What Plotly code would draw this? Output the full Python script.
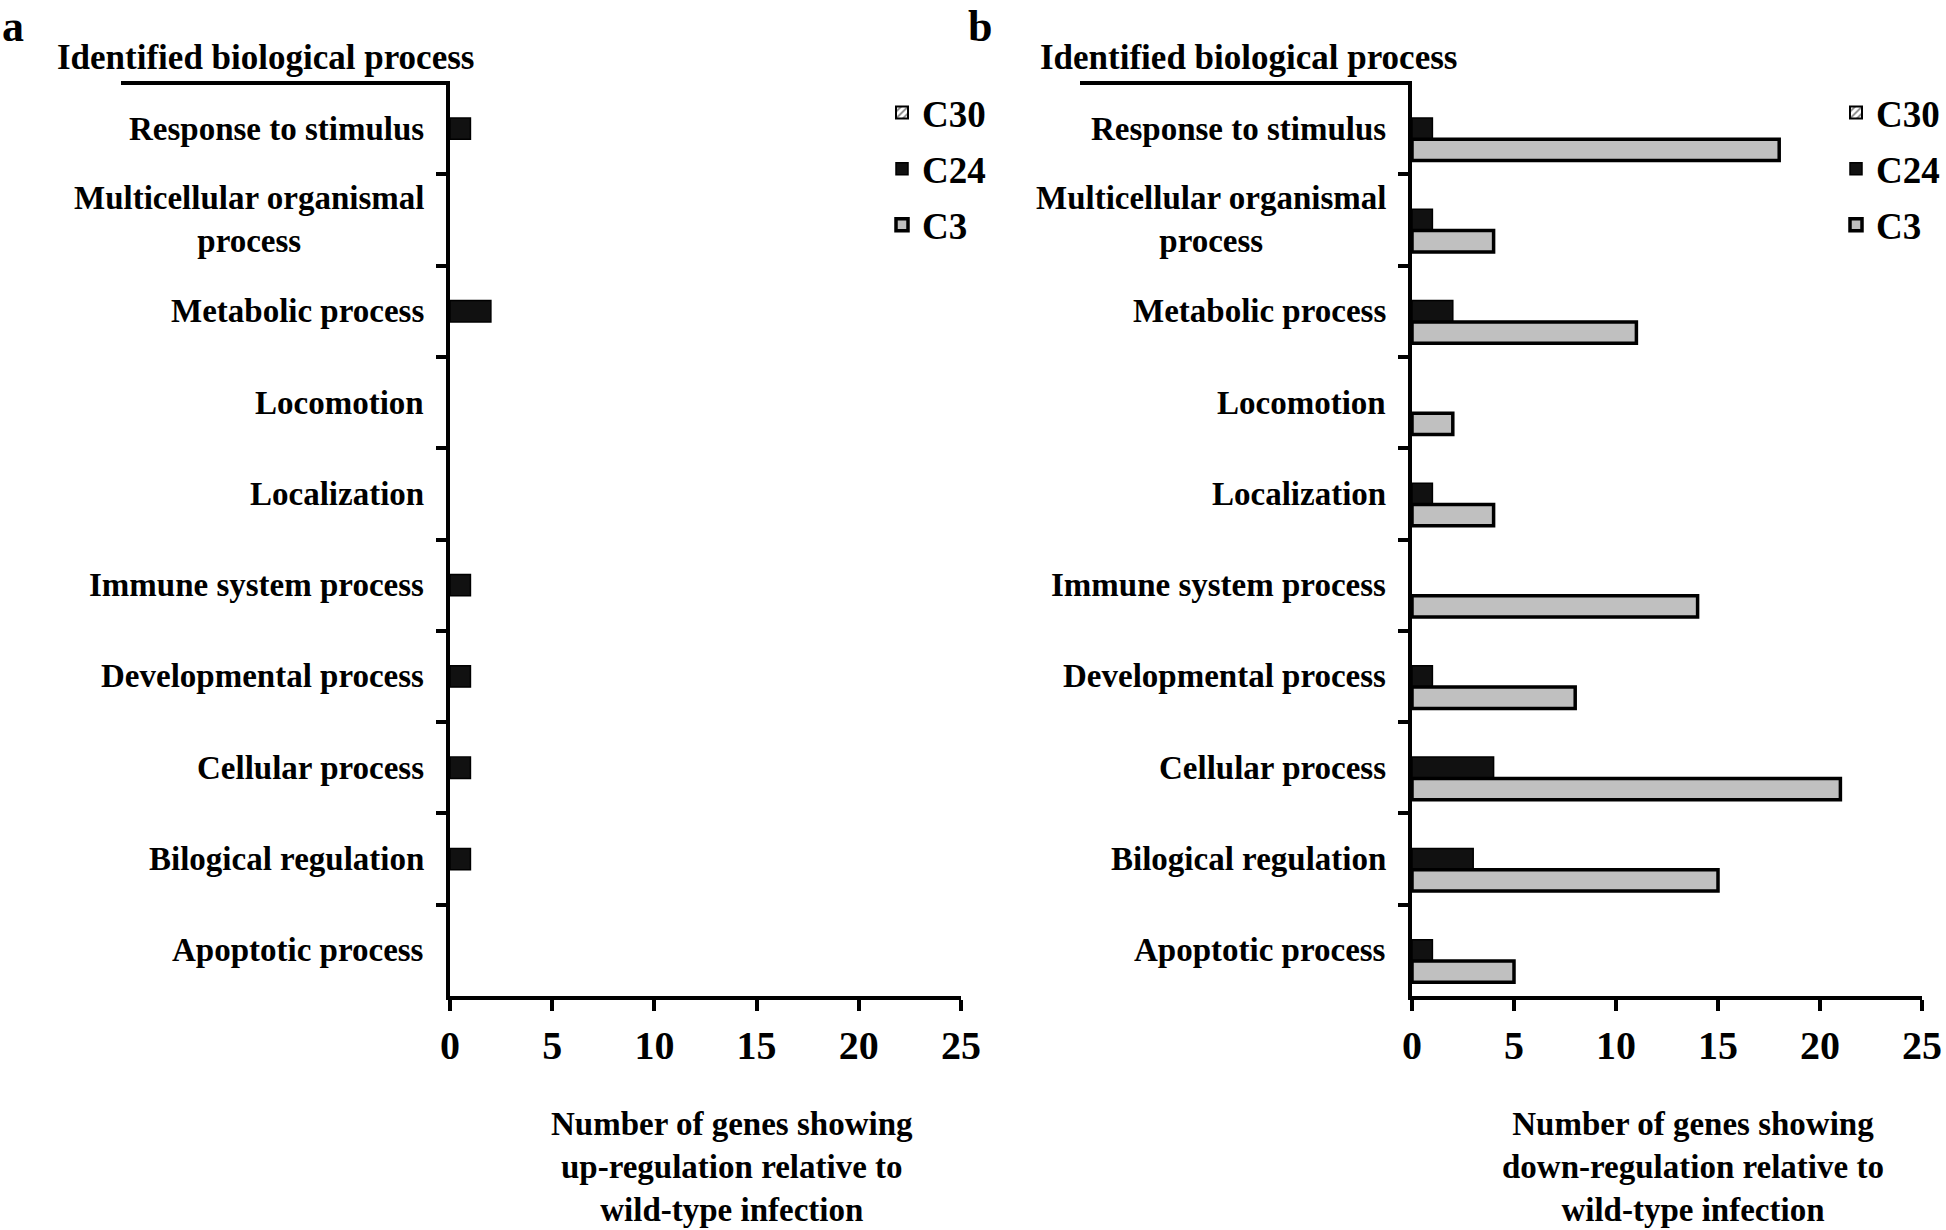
import plotly.graph_objects as go

categories = [
    "Response to stimulus",
    "Multicellular organismal<br>process",
    "Metabolic process",
    "Locomotion",
    "Localization",
    "Immune system process",
    "Developmental process",
    "Cellular process",
    "Bilogical regulation",
    "Apoptotic process",
]
series_names = ["C30", "C24", "C3"]

# Panel a: up-regulation
up_c30 = [0, 0, 0, 0, 0, 0, 0, 0, 0, 0]
up_c24 = [1, 0, 2, 0, 0, 1, 1, 1, 1, 0]
up_c3 = [0, 0, 0, 0, 0, 0, 0, 0, 0, 0]

# Panel b: down-regulation
down_c30 = [0, 0, 0, 0, 0, 0, 0, 0, 0, 0]
down_c24 = [1, 1, 2, 0, 1, 0, 1, 4, 3, 1]
down_c3 = [18, 4, 11, 2, 4, 14, 8, 21, 15, 5]

x_ticks = [0, 5, 10, 15, 20, 25]
x_titles = [
    "Number of genes showing<br>up-regulation relative to<br>wild-type infection",
    "Number of genes showing<br>down-regulation relative to<br>wild-type infection",
]
panel_title = "Identified biological process"
panel_letters = ["a", "b"]

FONT = "Liberation Serif, Times New Roman, serif"
W, H = 1946, 1230

fig = go.Figure()

styles = {
    "C30": dict(color="white", line=dict(color="black", width=2),
                pattern=dict(shape="/", fgcolor="black", bgcolor="white", size=6, solidity=0.35)),
    "C24": dict(color="#111111", line=dict(color="black", width=1.5)),
    "C3": dict(color="#c0c0c0", line=dict(color="black", width=3.5)),
}

panels = [
    ("x", "y", "legend", [up_c30, up_c24, up_c3]),
    ("x2", "y2", "legend2", [down_c30, down_c24, down_c3]),
]
for pi, (xa, ya, leg, vals) in enumerate(panels):
    for name, v in zip(series_names, vals):
        fig.add_trace(go.Bar(
            x=[val if val else None for val in v], y=categories, orientation="h", name=name,
            xaxis=xa, yaxis=ya, legend=leg,
            legendgroup=f"{name}_{pi}",
            marker=styles[name],
        ))

top_px, bot_px = 83, 996
ydom = [1 - bot_px / H, 1 - top_px / H]
xdom_a = [450 / W, 961 / W]
xdom_b = [1412 / W, 1922 / W]

xaxis_common = dict(
    range=[0, 25], tickvals=x_ticks, showgrid=False, zeroline=False,
    showline=True, linewidth=4, linecolor="black",
    ticks="outside", ticklen=11, tickwidth=4, tickcolor="black",
    tickfont=dict(family=FONT, size=40, color="black", weight="bold"),
    ticklabelstandoff=0, fixedrange=True,
)
yaxis_common = dict(
    categoryorder="array", categoryarray=categories, autorange="reversed",
    showgrid=False, zeroline=False, showline=True, linewidth=4, linecolor="black",
    ticks="outside", tickson="boundaries", ticklen=10, tickwidth=4, tickcolor="black",
    showticklabels=False, fixedrange=True,
)
legend_common = dict(
    xanchor="left", yanchor="top",
    font=dict(family=FONT, size=37, color="black", weight="bold"),
    bgcolor="rgba(0,0,0,0)", tracegroupgap=5, traceorder="grouped",
)

fig.update_layout(
    width=W, height=H,
    margin=dict(l=0, r=0, t=0, b=0, autoexpand=False),
    paper_bgcolor="white", plot_bgcolor="white",
    barmode="group", bargap=0.3, bargroupgap=0,
    showlegend=True,
    xaxis=dict(domain=xdom_a, anchor="y", **xaxis_common),
    yaxis=dict(domain=ydom, anchor="x", **yaxis_common),
    xaxis2=dict(domain=xdom_b, anchor="y2", **xaxis_common),
    yaxis2=dict(domain=ydom, anchor="x2", **yaxis_common),
    legend=dict(x=882 / W, y=1 - 82 / H, **legend_common),
    legend2=dict(x=1836 / W, y=1 - 82 / H, **legend_common),
)

annotations = []
shapes = []
for pi, (xa, ya) in enumerate([("x", "y"), ("x2", "y2")]):
    for cat in categories:
        annotations.append(dict(
            x=0, y=cat, xref=xa, yref=ya, text=cat, showarrow=False,
            xanchor="right", yanchor="middle", align="center", xshift=-24,
            font=dict(family=FONT, size=33, color="black", weight="bold"),
        ))
    annotations.append(dict(
        x=0.5, y=1 - 1167 / H, xref=f"{xa} domain", yref="paper", text=x_titles[pi],
        showarrow=False, xanchor="center", yanchor="middle", align="center", xshift=26,
        font=dict(family=FONT, size=33, color="black", weight="bold"),
    ))
    title_x = [265, 1248][pi]
    annotations.append(dict(
        x=title_x / W, y=1 - 58 / H, xref="paper", yref="paper", text=panel_title,
        showarrow=False, xanchor="center", yanchor="middle",
        font=dict(family=FONT, size=35, color="black", weight="bold"),
    ))
    letter_x = [0, 966][pi]
    annotations.append(dict(
        x=letter_x / W, y=1.0, xref="paper", yref="paper", text=panel_letters[pi],
        showarrow=False, xanchor="left", yanchor="top",
        font=dict(family=FONT, size=44, color="black", weight="bold"),
    ))
    line_x0 = [121, 1080][pi]
    line_x1 = [xdom_a, xdom_b][pi][0]
    shapes.append(dict(
        type="line", xref="paper", yref="paper",
        x0=line_x0 / W, x1=line_x1, y0=ydom[1], y1=ydom[1],
        line=dict(color="black", width=4),
    ))

fig.update_layout(annotations=annotations, shapes=shapes)
fig.write_html(
    "out.html",
    config={"displayModeBar": False},
    post_script="document.body.style.margin='0';document.body.style.overflow='hidden';",
)
